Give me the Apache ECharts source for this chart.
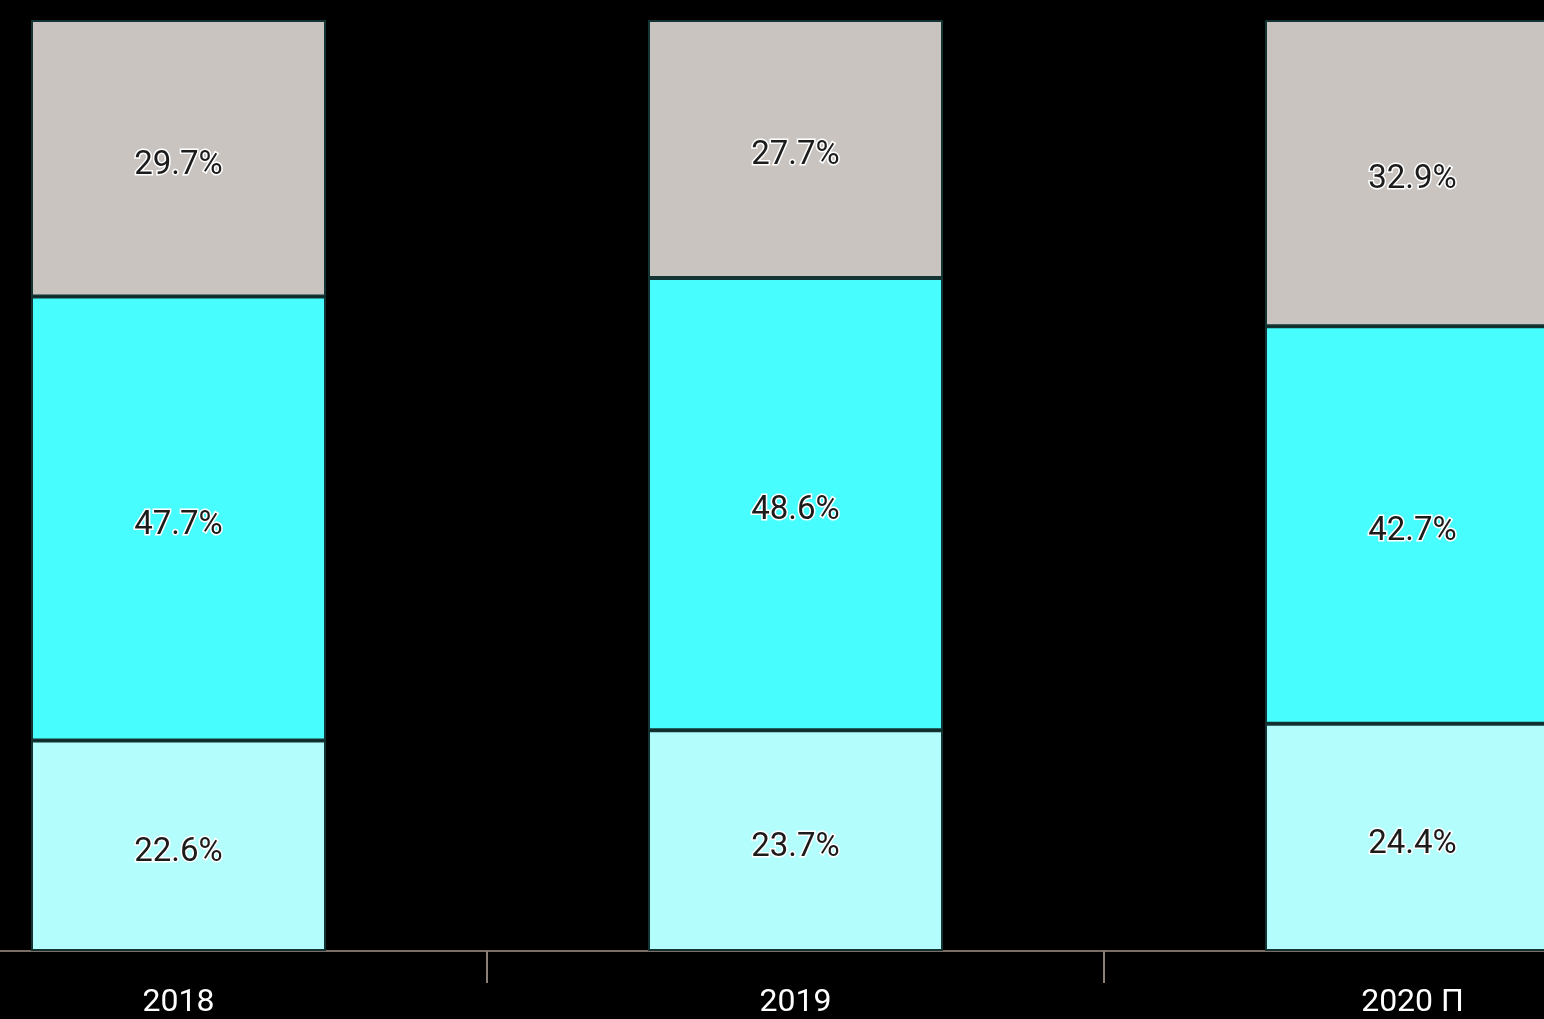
<!DOCTYPE html>
<html lang="en">
<head>
  <meta charset="UTF-8">
  <title>Stacked shares 2018–2020</title>
  <script src="https://cdn.jsdelivr.net/npm/echarts@6.0.0/dist/echarts.min.js"></script>
  <style>
    html, body { margin: 0; padding: 0; background: #000; }
  </style>
</head>
<body>
  <div id="main" style="width: 1544px; height: 1019px;"></div>

  <script>
    // Years on the x axis
    const years = ['2018', '2019', '2020 П'];

    // Shares, bottom to top
    const lowerShare = [22.6, 23.7, 24.4];
    const middleShare = [47.7, 48.6, 42.7];
    const upperShare = [29.7, 27.7, 32.9];

    const myChart = echarts.init(document.getElementById('main'));

    const labelStyle = {
      show: true,
      position: 'inside',
      offset: [0, 7],
      formatter: p => p.value.toFixed(1) + '%',
      color: '#1c1c1c',
      fontFamily: 'Roboto',
      fontSize: 33,
      textBorderColor: '#ffffff',
      textBorderWidth: 3
    };

    function barSeries(name, data, color) {
      return {
        name: name,
        type: 'bar',
        stack: 'total',
        barWidth: 295,
        data: data,
        itemStyle: {
          color: color,
          borderColor: '#143434',
          borderWidth: 2
        },
        label: labelStyle
      };
    }

    const options = {
      backgroundColor: '#000000',
      animation: false,
      grid: {
        left: -130,
        right: -177,
        top: 20,
        bottom: 68,
        containLabel: false,
        outerBoundsMode: 'none'
      },
      xAxis: {
        type: 'category',
        data: years,
        axisLine: { lineStyle: { color: '#7a6e66', width: 2 } },
        axisTick: { show: true, length: 32, lineStyle: { color: '#8a8078', width: 2 } },
        axisLabel: {
          color: '#ffffff',
          fontFamily: 'Roboto',
          fontSize: 32,
          margin: 36
        }
      },
      yAxis: {
        type: 'value',
        min: 0,
        max: 100,
        show: false,
        splitLine: { show: false }
      },
      series: [
        barSeries('lower', lowerShare, '#b3fdfd'),
        barSeries('middle', middleShare, '#48fdfd'),
        barSeries('upper', upperShare, '#c9c4bf')
      ]
    };

    myChart.setOption(options);
  </script>
</body>
</html>
